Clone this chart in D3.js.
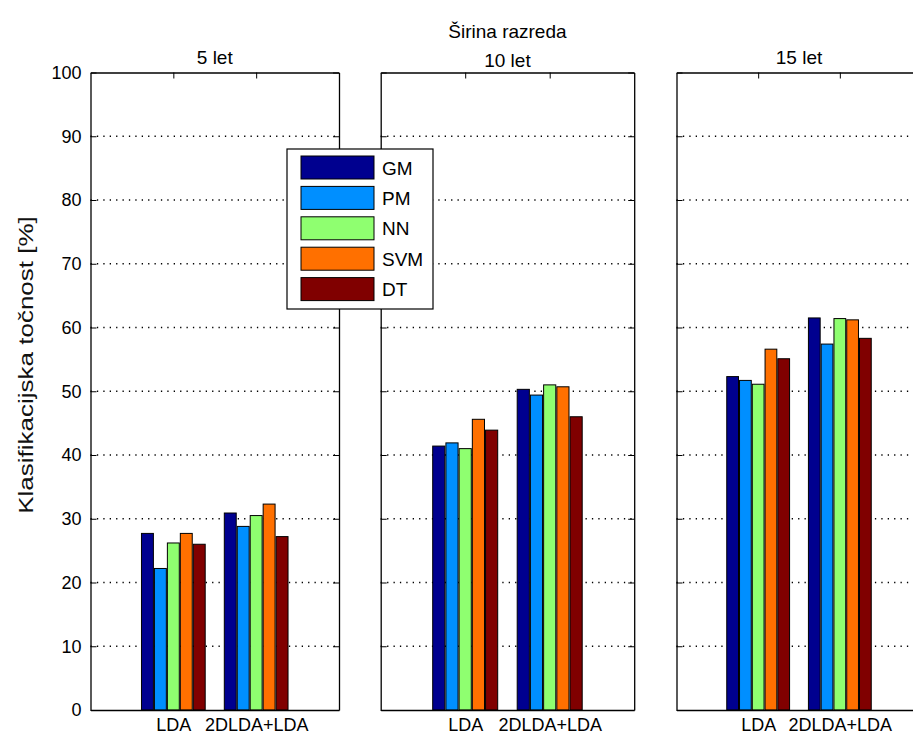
<!DOCTYPE html>
<html lang="sl">
<head>
<meta charset="utf-8">
<title>Klasifikacijska točnost</title>
<script src="https://d3js.org/d3.v7.min.js"></script>
<style>
  body { margin: 0; background: #fff; }
  svg { font-family: "Liberation Sans", Arial, sans-serif; }
  .axis text { font-size: 18px; fill: #000; }
  .axis path, .axis line { stroke: #000; }
</style>
</head>
<body>
<script>
// data
var panelTitles = ["5 let", "10 let", "15 let"];
var methods = ["LDA", "2DLDA+LDA"];
var series = ["GM", "PM", "NN", "SVM", "DT"];
var colors = ["#00008f", "#008fff", "#8fff70", "#ff7000", "#800000"];
var yTicks = [0, 10, 20, 30, 40, 50, 60, 70, 80, 90, 100];
var acc5 = [[27.7, 22.2, 26.2, 27.7, 26.0], [30.9, 28.8, 30.5, 32.3, 27.2]];
var acc10 = [[41.4, 41.9, 41.0, 45.6, 43.9], [50.3, 49.4, 51.0, 50.7, 46.0]];
var acc15 = [[52.3, 51.7, 51.1, 56.6, 55.1], [61.5, 57.4, 61.4, 61.2, 58.3]];
var panelData = [acc5, acc10, acc15];

// layout
var w = 913, h = 735;
var plotTop = 72.5, plotBottom = 710;
var lefts = [90.5, 380.7, 676.5];
var widths = [248.5, 253.5, 245];

var svg = d3.select("body").append("svg")
  .attr("width", w)
  .attr("height", h);

var y = d3.scaleLinear().domain([0, 100]).range([plotBottom, plotTop]);

var groupWidth = Math.min(0.8, series.length / (series.length + 1.5));

panelData.forEach(function(data, p) {
  var x = d3.scaleLinear().domain([0, 3]).range([lefts[p], lefts[p] + widths[p]]);
  var g = svg.append("g");

  // dotted grid
  g.selectAll("line.grid")
    .data(yTicks.slice(1, -1))
    .enter().append("line")
    .attr("class", "grid")
    .attr("x1", x(0)).attr("x2", x(3))
    .attr("y1", function(d) { return y(d); })
    .attr("y2", function(d) { return y(d); })
    .attr("stroke", "#000")
    .attr("stroke-width", 1.3)
    .attr("stroke-dasharray", "1.3,5.1");

  // bars
  methods.forEach(function(m, i) {
    var c = i + 1;
    var band = d3.scaleBand()
      .domain(series)
      .range([x(c - groupWidth / 2), x(c + groupWidth / 2)])
      .paddingInner(0.08);
    g.selectAll("rect.b" + i)
      .data(data[i])
      .enter().append("rect")
      .attr("x", function(d, k) { return band(series[k]); })
      .attr("width", band.bandwidth())
      .attr("y", function(d) { return y(d); })
      .attr("height", function(d) { return y(0) - y(d); })
      .attr("fill", function(d, k) { return colors[k]; })
      .attr("stroke", "#000")
      .attr("stroke-width", 1);
  });

  // axes
  var left = d3.axisLeft(y).tickValues(yTicks).tickSize(-6).tickSizeOuter(0).tickPadding(9);
  if (p > 0) left.tickFormat("");
  g.append("g").attr("class", "axis")
    .attr("transform", "translate(" + x(0) + ",0)")
    .call(left);

  g.append("g").attr("class", "axis")
    .attr("transform", "translate(" + x(3) + ",0)")
    .call(d3.axisRight(y).tickValues(yTicks).tickSize(-6).tickSizeOuter(0).tickFormat(""));

  g.append("g").attr("class", "axis")
    .attr("transform", "translate(0," + plotTop + ")")
    .call(d3.axisTop(x).tickValues([1, 2]).tickSize(-6).tickSizeOuter(0).tickFormat(""));

  g.append("g").attr("class", "axis")
    .attr("transform", "translate(0," + plotBottom + ")")
    .call(d3.axisBottom(x).tickValues([1, 2]).tickSize(0).tickSizeOuter(0).tickPadding(8)
      .tickFormat(function(d) { return methods[d - 1]; }));

  g.selectAll(".axis path").attr("stroke-width", 1.3);

  // title
  g.append("text")
    .attr("x", x(1.5))
    .attr("y", p === 1 ? 67 : 64)
    .attr("text-anchor", "middle")
    .attr("font-size", 19)
    .text(panelTitles[p]);
});

svg.append("text")
  .attr("x", lefts[1] + widths[1] / 2)
  .attr("y", 38)
  .attr("text-anchor", "middle")
  .attr("font-size", 19)
  .text("Širina razreda");

// y label, stretched along its length like the reference
svg.append("text")
  .attr("transform", "translate(33,365) rotate(-90) scale(1.3,1)")
  .attr("text-anchor", "middle")
  .attr("font-size", 20)
  .attr("fill", "#111")
  .text("Klasifikacijska točnost [%]");

// legend
var legend = svg.append("g").attr("transform", "translate(287,149)");
legend.append("rect")
  .attr("width", 146).attr("height", 160)
  .attr("fill", "#fff").attr("stroke", "#000").attr("stroke-width", 1.2);

var rows = legend.selectAll("g.row")
  .data(series)
  .enter().append("g")
  .attr("transform", function(d, i) { return "translate(0," + (18.5 + i * 30.4) + ")"; });

rows.append("rect")
  .attr("x", 14).attr("y", -11.5)
  .attr("width", 73).attr("height", 23)
  .attr("fill", function(d, i) { return colors[i]; })
  .attr("stroke", "#000");

rows.append("text")
  .attr("x", 95).attr("y", 7)
  .attr("font-size", 19)
  .text(function(d) { return d; });
</script>
</body>
</html>
